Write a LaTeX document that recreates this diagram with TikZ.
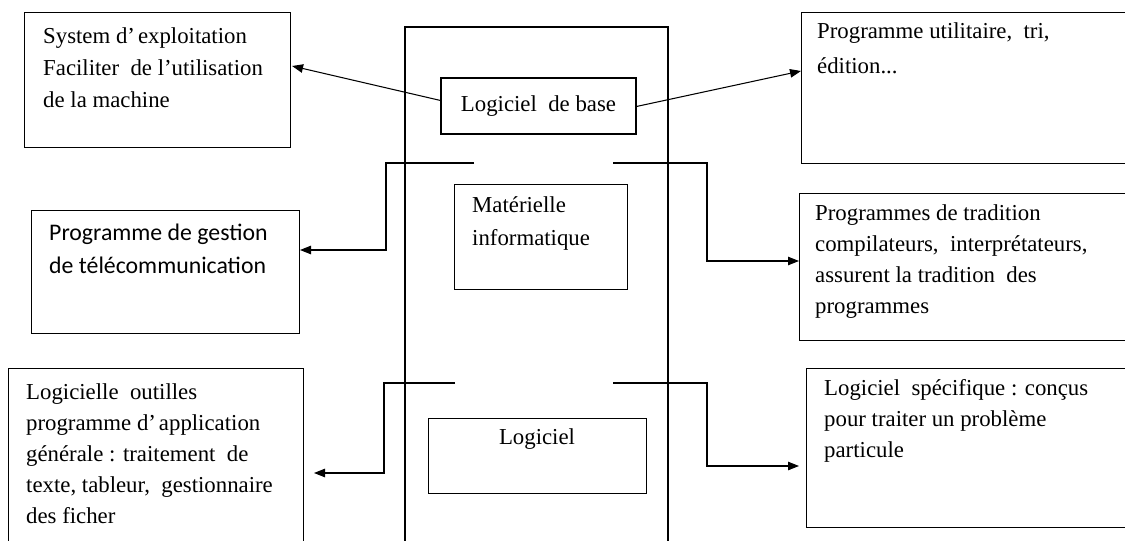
\documentclass[tikz,border=0pt]{standalone}
\usepackage{fontspec}
\setmainfont{Liberation Serif}
\newfontfamily\calib{Carlito}
\usetikzlibrary{arrows.meta,calc}
\begin{document}
\begin{tikzpicture}[x=1pt,y=-1pt,
  box/.style={draw, line width=1.05pt, inner sep=0pt, anchor=north west},
  txt/.style={inner sep=0pt, anchor=north west, align=left, font=\fontsize{22.8}{31}\selectfont},
  ln/.style={line width=1.05pt},
  arr/.style={line width=1.05pt, -{Triangle[length=11pt,width=8.5pt]}}]
\clip (0,0) rectangle (1125,541);
\fill[white] (0,0) rectangle (1125,541);
% central frame
\draw[ln] (405,560) -- (405,27) -- (668,27) -- (668,560);
% boxes
\node[box, minimum width=266pt, minimum height=135pt] (sysexp) at (24,12) {};
\node[box, minimum width=340pt, minimum height=151pt] (util) at (801,12) {};
\node[box, minimum width=195pt, minimum height=56pt, anchor=center, font=\fontsize{22.8}{31}\selectfont] (base) at (538.5,106) {Logiciel\ \ de base};
\node[box, minimum width=268pt, minimum height=123pt] (gestion) at (31,210) {};
\node[box, minimum width=173pt, minimum height=105pt] (mat) at (454,184) {};
\node[box, minimum width=340pt, minimum height=147pt] (trad) at (799,193) {};
\node[box, minimum width=295pt, minimum height=200pt] (outil) at (8,368) {};
\node[box, minimum width=218pt, minimum height=75pt] (logi) at (428,418) {};
\node[box, minimum width=340pt, minimum height=159pt] (spec) at (806,368) {};
% texts
\node[txt, font=\fontsize{22.8}{32}\selectfont] (sysexpT) at (43,27) {System d’\hspace{3pt}exploitation\\Faciliter\ \ de l’utilisation\\de la machine};
\node[txt, font=\fontsize{22.8}{35}\selectfont] (utilT) at (817,22) {Programme utilitaire,\ \ tri,\\édition...};
\node[txt, font=\calib\fontsize{23.8}{33}\selectfont] (gestionT) at (49,224) {Programme de gestion\\de télécommunication};
\node[txt, font=\fontsize{22.8}{33}\selectfont] (matT) at (472,196) {Matérielle\\informatique};
\node[txt] (tradT) at (815,204) {Programmes de tradition\\compilateurs,\ \ interprétateurs,\\assurent la tradition\ \ des\\programmes};
\node[txt] (outilT) at (26,383) {Logicielle\ \ outilles\\programme d’\hspace{3pt}application\\générale : traitement\ \ de\\texte, tableur,\ \ gestionnaire\\des ficher};
\node[txt] (specT) at (824,379) {Logiciel\ \ spécifique : conçus\\pour traiter un problème\\particule};
\node[inner sep=0pt, font=\fontsize{22.8}{31}\selectfont] (logiT) at (537,439) {Logiciel};
% free ends of the connectors
\coordinate (ml) at (474,163);
\coordinate (mr) at (613,163);
\coordinate (bl) at (455,383);
\coordinate (br) at (613,383);
% connectors
\draw[arr] ($(base.north west)+(0,23)$) -- ($(sysexp.north east)+(1,54)$);
\draw[arr] ($(base.north east)+(0,29)$) -- ($(util.north west)+(0,59)$);
\draw[arr] (ml) -- (386,163) |- ($(gestion.north east)+(0,40)$);
\draw[arr] (mr) -- (707,163) |- ($(trad.north west)+(0,68)$);
\draw[arr] (bl) -- (384,383) |- ($(outil.north east)+(10,105)$);
\draw[arr] (br) -- (707,383) |- ($(spec.north west)+(-7,98)$);
\end{tikzpicture}
\end{document}
